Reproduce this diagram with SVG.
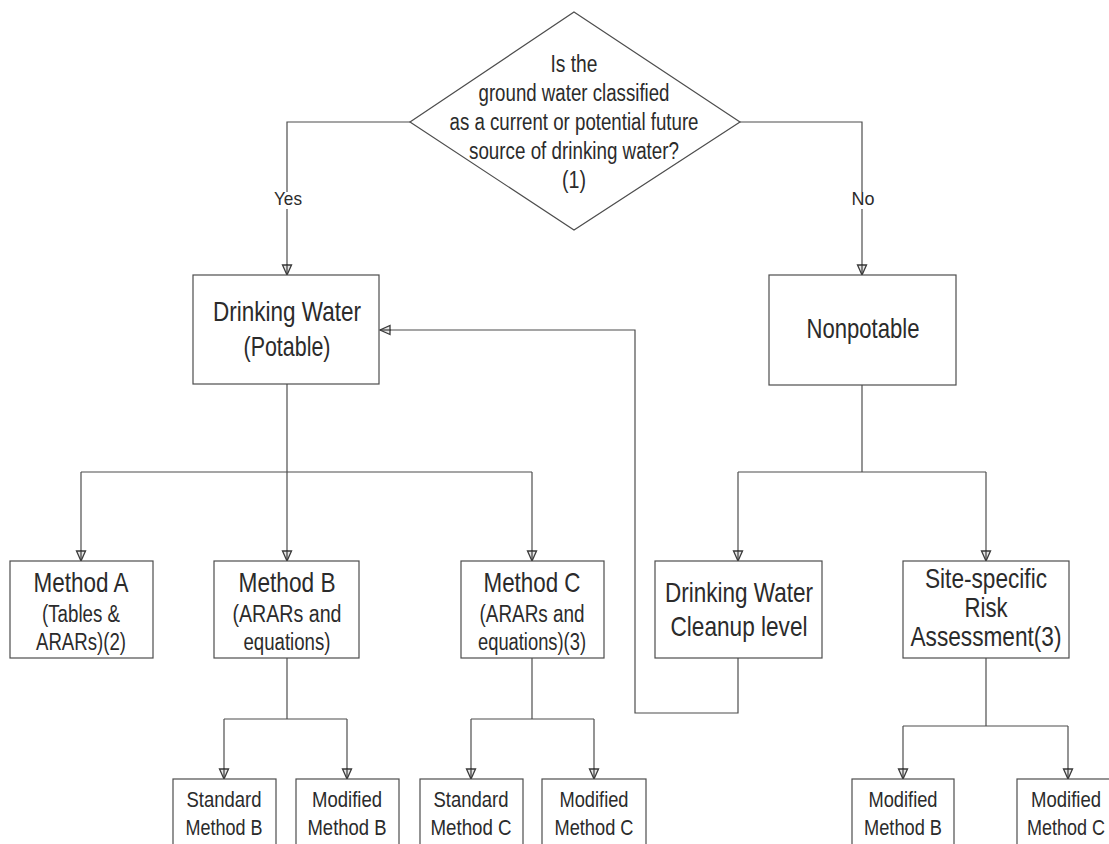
<svg xmlns="http://www.w3.org/2000/svg" width="1109" height="844" viewBox="0 0 1109 844">
<style>
.bg{fill:#ffffff}
.box{fill:#ffffff;stroke:#4d4d4d;stroke-width:1.2}
.ln{fill:none;stroke:#4d4d4d;stroke-width:1.2}
text{font-family:"Liberation Sans Narrow","Arial Narrow","Liberation Sans",Arial,sans-serif;fill:#2b2b2b;text-anchor:middle}
.q{font-size:23px}
.lab{font-size:19px}
.big{font-size:28px}
.mid{font-size:23px}
.sm{font-size:22px}
</style>
<defs>
<marker id="arr" viewBox="0 0 12 12" refX="11" refY="6" markerWidth="12" markerHeight="12" markerUnits="userSpaceOnUse" orient="auto">
<path d="M1,1.5 L11,6 L1,10.5 Z" fill="#e6e6e6" stroke="#3a3a3a" stroke-width="1.3"/>
<path d="M0,6 L11,6" stroke="#3a3a3a" stroke-width="1.2"/>
</marker>
</defs>
<rect class="bg" x="0" y="0" width="1109" height="844"/>

<g id="connectors">
<path class="ln" d="M410,122 H287 V192"/>
<path class="ln" d="M287,209 V275" marker-end="url(#arr)"/>
<path class="ln" d="M740,122 H862 V192"/>
<path class="ln" d="M862,209 V275" marker-end="url(#arr)"/>
<path class="ln" d="M287,384 V561" marker-end="url(#arr)"/>
<path class="ln" d="M81,472 H532"/>
<path class="ln" d="M81,472 V561" marker-end="url(#arr)"/>
<path class="ln" d="M532,472 V561" marker-end="url(#arr)"/>
<path class="ln" d="M862,385 V472"/>
<path class="ln" d="M738,472 H986"/>
<path class="ln" d="M738,472 V561" marker-end="url(#arr)"/>
<path class="ln" d="M986,472 V561" marker-end="url(#arr)"/>
<path class="ln" d="M738,658 V713 H635 V330 H380" marker-end="url(#arr)"/>
<path class="ln" d="M287,658 V719"/>
<path class="ln" d="M224,719 H347"/>
<path class="ln" d="M224,719 V779" marker-end="url(#arr)"/>
<path class="ln" d="M347,719 V779" marker-end="url(#arr)"/>
<path class="ln" d="M532,658 V719"/>
<path class="ln" d="M471,719 H594"/>
<path class="ln" d="M471,719 V779" marker-end="url(#arr)"/>
<path class="ln" d="M594,719 V779" marker-end="url(#arr)"/>
<path class="ln" d="M986,658 V726"/>
<path class="ln" d="M903,726 H1068"/>
<path class="ln" d="M903,726 V779" marker-end="url(#arr)"/>
<path class="ln" d="M1068,726 V779" marker-end="url(#arr)"/>
<text class="lab" x="288" y="205" textLength="28" lengthAdjust="spacingAndGlyphs">Yes</text>
<text class="lab" x="863" y="205" textLength="23" lengthAdjust="spacingAndGlyphs">No</text>
</g>

<g id="decision">
<polygon class="box" points="574,12 740,122 574,230 410,122"/>
<text class="q" x="574" y="72" textLength="47" lengthAdjust="spacingAndGlyphs">Is the</text>
<text class="q" x="574" y="101" textLength="191" lengthAdjust="spacingAndGlyphs">ground water classified</text>
<text class="q" x="574" y="130" textLength="249" lengthAdjust="spacingAndGlyphs">as a current or potential future</text>
<text class="q" x="574" y="159" textLength="210" lengthAdjust="spacingAndGlyphs">source of drinking water?</text>
<text class="q" x="574" y="188" textLength="24" lengthAdjust="spacingAndGlyphs">(1)</text>
</g>

<g id="potable">
<rect class="box" x="193" y="275" width="186" height="109"/>
<text class="big" x="287" y="321" textLength="148" lengthAdjust="spacingAndGlyphs">Drinking Water</text>
<text class="big" x="287" y="356" textLength="87" lengthAdjust="spacingAndGlyphs">(Potable)</text>
</g>

<g id="nonpotable">
<rect class="box" x="769" y="275" width="187" height="110"/>
<text class="big" x="863" y="338" textLength="113" lengthAdjust="spacingAndGlyphs">Nonpotable</text>
</g>

<g id="method-a">
<rect class="box" x="10" y="561" width="143" height="97"/>
<text class="big" x="81" y="592" textLength="95" lengthAdjust="spacingAndGlyphs">Method A</text>
<text class="mid" x="81" y="622" textLength="78" lengthAdjust="spacingAndGlyphs">(Tables &amp;</text>
<text class="mid" x="81" y="650" textLength="90" lengthAdjust="spacingAndGlyphs">ARARs)(2)</text>
</g>

<g id="method-b">
<rect class="box" x="214" y="561" width="145" height="97"/>
<text class="big" x="287" y="592" textLength="97" lengthAdjust="spacingAndGlyphs">Method B</text>
<text class="mid" x="287" y="622" textLength="109" lengthAdjust="spacingAndGlyphs">(ARARs and</text>
<text class="mid" x="287" y="650" textLength="87" lengthAdjust="spacingAndGlyphs">equations)</text>
</g>

<g id="method-c">
<rect class="box" x="461" y="561" width="143" height="97"/>
<text class="big" x="532" y="592" textLength="97" lengthAdjust="spacingAndGlyphs">Method C</text>
<text class="mid" x="532" y="622" textLength="105" lengthAdjust="spacingAndGlyphs">(ARARs and</text>
<text class="mid" x="532" y="650" textLength="108" lengthAdjust="spacingAndGlyphs">equations)(3)</text>
</g>

<g id="cleanup">
<rect class="box" x="655" y="561" width="167" height="97"/>
<text class="big" x="739" y="602" textLength="148" lengthAdjust="spacingAndGlyphs">Drinking Water</text>
<text class="big" x="739" y="636" textLength="137" lengthAdjust="spacingAndGlyphs">Cleanup level</text>
</g>

<g id="risk">
<rect class="box" x="903" y="561" width="166" height="97"/>
<text class="big" x="986" y="588" textLength="122" lengthAdjust="spacingAndGlyphs">Site-specific</text>
<text class="big" x="986" y="617" textLength="43" lengthAdjust="spacingAndGlyphs">Risk</text>
<text class="big" x="986" y="646" textLength="151" lengthAdjust="spacingAndGlyphs">Assessment(3)</text>
</g>

<g id="std-b">
<rect class="box" x="173" y="779" width="103" height="80"/>
<text class="sm" x="224" y="807" textLength="75" lengthAdjust="spacingAndGlyphs">Standard</text>
<text class="sm" x="224" y="835" textLength="77" lengthAdjust="spacingAndGlyphs">Method B</text>
</g>

<g id="mod-b">
<rect class="box" x="296" y="779" width="103" height="80"/>
<text class="sm" x="347" y="807" textLength="70" lengthAdjust="spacingAndGlyphs">Modified</text>
<text class="sm" x="347" y="835" textLength="79" lengthAdjust="spacingAndGlyphs">Method B</text>
</g>

<g id="std-c">
<rect class="box" x="420" y="779" width="103" height="80"/>
<text class="sm" x="471" y="807" textLength="75" lengthAdjust="spacingAndGlyphs">Standard</text>
<text class="sm" x="471" y="835" textLength="81" lengthAdjust="spacingAndGlyphs">Method C</text>
</g>

<g id="mod-c">
<rect class="box" x="542" y="779" width="104" height="80"/>
<text class="sm" x="594" y="807" textLength="69" lengthAdjust="spacingAndGlyphs">Modified</text>
<text class="sm" x="594" y="835" textLength="79" lengthAdjust="spacingAndGlyphs">Method C</text>
</g>

<g id="risk-mod-b">
<rect class="box" x="852" y="779" width="102" height="80"/>
<text class="sm" x="903" y="807" textLength="69" lengthAdjust="spacingAndGlyphs">Modified</text>
<text class="sm" x="903" y="835" textLength="78" lengthAdjust="spacingAndGlyphs">Method B</text>
</g>

<g id="risk-mod-c">
<rect class="box" x="1017" y="779" width="103" height="80"/>
<text class="sm" x="1066" y="807" textLength="70" lengthAdjust="spacingAndGlyphs">Modified</text>
<text class="sm" x="1066" y="835" textLength="78" lengthAdjust="spacingAndGlyphs">Method C</text>
</g>
</svg>
